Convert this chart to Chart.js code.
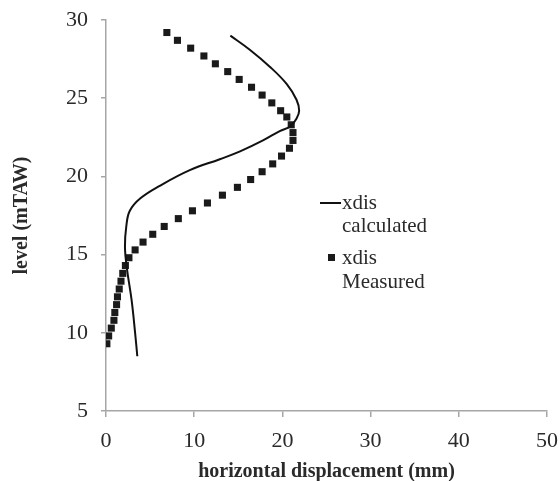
<!DOCTYPE html>
<html>
<head>
<meta charset="utf-8">
<script src="https://cdn.jsdelivr.net/npm/chart.js@4.4.1/dist/chart.umd.min.js"></script>
<style>
  html, body { margin: 0; padding: 0; background: #fff; }
  #wrap { width: 560px; height: 481px; }
</style>
</head>
<body>
<div id="wrap"><canvas id="c" width="560" height="481"></canvas></div>
<script>
// --- data ---
const calcX = [14.1, 16.3, 18.6, 20.5, 21.6, 21.9, 21.6, 20.9, 19.7, 17.8, 15.2, 12.9, 9.5, 6.1, 3.9, 2.7, 2.3, 2.15, 2.35, 2.9, 3.3, 3.55];
const calcY = [29.0, 28.1, 27.0, 25.9, 24.9, 24.2, 23.7, 23.2, 22.9, 22.3, 21.6, 21.1, 20.4, 19.4, 18.6, 17.8, 16.8, 15.5, 14.2, 12.1, 10.0, 8.5];

const measX = [6.9, 8.1, 9.6, 11.1, 12.4, 13.8, 15.1, 16.5, 17.7, 18.8, 19.8, 20.5, 21.0, 21.2, 21.2, 20.8, 19.9, 18.9, 17.7, 16.4, 14.9, 13.2, 11.5, 9.8, 8.2, 6.6, 5.3, 4.2, 3.3, 2.6, 2.2, 1.9, 1.7, 1.5, 1.3, 1.2, 1.0, 0.9, 0.6, 0.3, 0.1];
const measY = [29.2, 28.7, 28.2, 27.7, 27.2, 26.7, 26.2, 25.7, 25.2, 24.7, 24.2, 23.8, 23.3, 22.8, 22.3, 21.8, 21.3, 20.8, 20.3, 19.8, 19.3, 18.8, 18.3, 17.8, 17.3, 16.8, 16.3, 15.8, 15.3, 14.8, 14.3, 13.8, 13.3, 12.8, 12.3, 11.8, 11.3, 10.8, 10.3, 9.8, 9.3];

const xTicks = [0, 10, 20, 30, 40, 50];
const yTicks = [5, 10, 15, 20, 25, 30];
const seriesNames = [['xdis', 'calculated'], ['xdis', 'Measured']];

const toPoints = (xs, ys) => xs.map((x, i) => ({ x: x, y: ys[i] }));

const SERIF = "'Liberation Serif', 'DejaVu Serif', serif";
const AXIS_GRAY = '#a6a6a6';
const INK = '#2a2a2a';

// legend drawn inside the plot, to the right of the curves
const sideLegend = {
    id: 'sideLegend',
    afterDraw(chart) {
        const ctx = chart.ctx;
        ctx.save();
        ctx.font = '21px ' + SERIF;
        ctx.fillStyle = INK;
        ctx.textBaseline = 'middle';
        ctx.textAlign = 'left';

        // calculated: line sample
        ctx.strokeStyle = '#111';
        ctx.lineWidth = 2;
        ctx.beginPath();
        ctx.moveTo(320, 203);
        ctx.lineTo(341, 203);
        ctx.stroke();
        ctx.fillText(seriesNames[0][0], 342, 203);
        ctx.fillText(seriesNames[0][1], 342, 226);

        // measured: square marker
        ctx.fillStyle = '#1a1a1a';
        ctx.fillRect(328, 254, 7, 7);
        ctx.fillStyle = INK;
        ctx.fillText(seriesNames[1][0], 342, 258);
        ctx.fillText(seriesNames[1][1], 342, 282);
        ctx.restore();
    }
};

new Chart(document.getElementById('c'), {
    type: 'scatter',
    data: {
        datasets: [
            {
                label: 'xdis calculated',
                data: toPoints(calcX, calcY),
                showLine: true,
                borderColor: '#111',
                borderWidth: 2,
                pointRadius: 0,
                tension: 0.4,
                fill: false
            },
            {
                label: 'xdis Measured',
                data: toPoints(measX, measY),
                showLine: false,
                pointStyle: 'rect',
                pointRadius: 5,
                backgroundColor: '#1a1a1a',
                borderColor: '#1a1a1a',
                borderWidth: 0
            }
        ]
    },
    options: {
        responsive: false,
        animation: false,
        layout: { padding: { top: 20, right: 13, left: 0, bottom: 0 } },
        plugins: {
            legend: { display: false },
            tooltip: { enabled: false }
        },
        scales: {
            x: {
                type: 'linear',
                min: 0, max: 50,
                afterBuildTicks: (s) => { s.ticks = xTicks.map(v => ({ value: v })); },
                afterFit: (s) => { s.height = 70; s.paddingLeft = 0; s.paddingRight = 0; },
                border: { display: true, color: AXIS_GRAY, width: 1.5 },
                grid: { drawOnChartArea: false, drawTicks: true, tickLength: 6, color: AXIS_GRAY, lineWidth: 1.5 },
                ticks: { color: INK, font: { family: SERIF, size: 22 }, padding: 11, maxRotation: 0 },
                title: { display: true, text: 'horizontal displacement (mm)', color: INK, font: { family: SERIF, size: 20, weight: 'bold' }, padding: { top: 0, bottom: -3 } }
            },
            y: {
                type: 'linear',
                min: 5, max: 30,
                afterBuildTicks: (s) => { s.ticks = yTicks.map(v => ({ value: v })); },
                afterFit: (s) => { s.width = 106; s.paddingTop = 0; s.paddingBottom = 0; },
                border: { display: true, color: AXIS_GRAY, width: 1.5 },
                grid: { drawOnChartArea: false, drawTicks: true, tickLength: 5, color: AXIS_GRAY, lineWidth: 1.5 },
                ticks: { color: INK, font: { family: SERIF, size: 22 }, padding: 13 },
                title: { display: true, text: 'level (mTAW)', color: INK, font: { family: SERIF, size: 20, weight: 'bold' }, padding: { top: 10, bottom: 0 } }
            }
        }
    },
    plugins: [sideLegend]
});
</script>
</body>
</html>
